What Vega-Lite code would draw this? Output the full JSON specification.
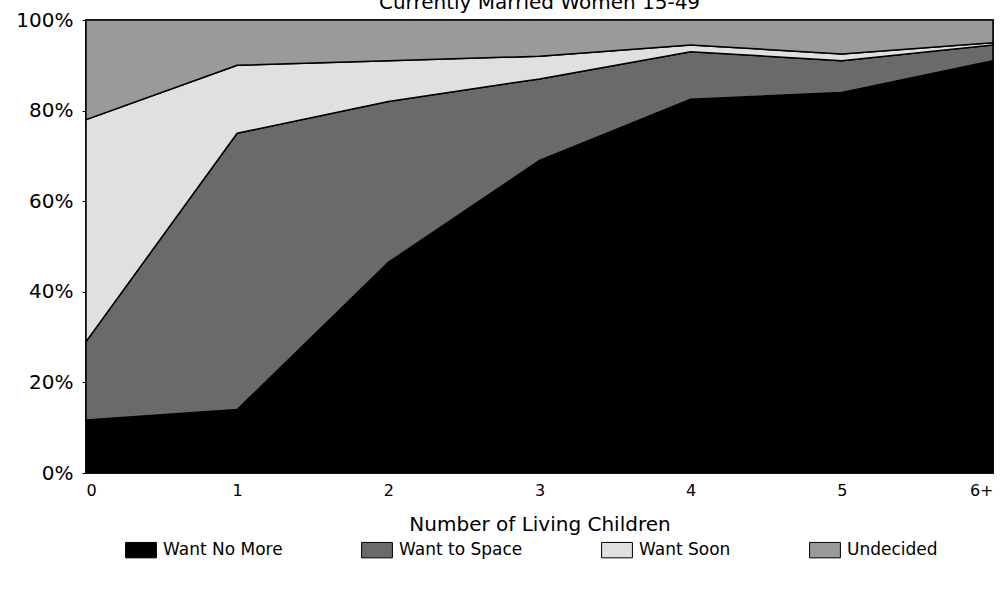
{
  "$schema": "https://vega.github.io/schema/vega-lite/v6.json",
  "width": 907,
  "height": 453,
  "autosize": {"type": "none"},
  "padding": {"left": 86, "top": 20, "right": 7, "bottom": 117},
  "background": "white",
  "title": {
    "text": "Currently Married Women 15-49",
    "fontSize": 20,
    "font": "DejaVu Sans",
    "fontWeight": "normal",
    "color": "black",
    "offset": -3,
    "anchor": "middle"
  },
  "config": {
    "view": {"stroke": "black", "strokeWidth": 1.5},
    "font": "DejaVu Sans"
  },
  "data": {
    "values": [
      {"children": "0", "status": "Want No More", "ord": 1, "pct": 0.117},
      {"children": "0", "status": "Want to Space", "ord": 2, "pct": 0.173},
      {"children": "0", "status": "Want Soon", "ord": 3, "pct": 0.49},
      {"children": "0", "status": "Undecided", "ord": 4, "pct": 0.22},
      {"children": "1", "status": "Want No More", "ord": 1, "pct": 0.14},
      {"children": "1", "status": "Want to Space", "ord": 2, "pct": 0.61},
      {"children": "1", "status": "Want Soon", "ord": 3, "pct": 0.15},
      {"children": "1", "status": "Undecided", "ord": 4, "pct": 0.10},
      {"children": "2", "status": "Want No More", "ord": 1, "pct": 0.465},
      {"children": "2", "status": "Want to Space", "ord": 2, "pct": 0.355},
      {"children": "2", "status": "Want Soon", "ord": 3, "pct": 0.09},
      {"children": "2", "status": "Undecided", "ord": 4, "pct": 0.09},
      {"children": "3", "status": "Want No More", "ord": 1, "pct": 0.69},
      {"children": "3", "status": "Want to Space", "ord": 2, "pct": 0.18},
      {"children": "3", "status": "Want Soon", "ord": 3, "pct": 0.05},
      {"children": "3", "status": "Undecided", "ord": 4, "pct": 0.08},
      {"children": "4", "status": "Want No More", "ord": 1, "pct": 0.825},
      {"children": "4", "status": "Want to Space", "ord": 2, "pct": 0.105},
      {"children": "4", "status": "Want Soon", "ord": 3, "pct": 0.015},
      {"children": "4", "status": "Undecided", "ord": 4, "pct": 0.055},
      {"children": "5", "status": "Want No More", "ord": 1, "pct": 0.84},
      {"children": "5", "status": "Want to Space", "ord": 2, "pct": 0.07},
      {"children": "5", "status": "Want Soon", "ord": 3, "pct": 0.015},
      {"children": "5", "status": "Undecided", "ord": 4, "pct": 0.075},
      {"children": "6+", "status": "Want No More", "ord": 1, "pct": 0.91},
      {"children": "6+", "status": "Want to Space", "ord": 2, "pct": 0.035},
      {"children": "6+", "status": "Want Soon", "ord": 3, "pct": 0.005},
      {"children": "6+", "status": "Undecided", "ord": 4, "pct": 0.05}
    ]
  },
  "mark": {"type": "area", "stroke": "black", "strokeWidth": 1.5, "fillOpacity": 1, "interpolate": "linear"},
  "encoding": {
    "x": {
      "field": "children",
      "type": "ordinal",
      "sort": ["0", "1", "2", "3", "4", "5", "6+"],
      "scale": {"type": "point", "padding": 0},
      "axis": {
        "title": "Number of Living Children",
        "titleFontSize": 20,
        "titleFontWeight": "normal",
        "titleColor": "black",
        "titlePadding": 16,
        "labelFontSize": 16,
        "labelColor": "black",
        "labelAngle": 0,
        "labelPadding": 9,
        "labelFlush": true,
        "ticks": false,
        "domain": false
      }
    },
    "y": {
      "field": "pct",
      "type": "quantitative",
      "stack": "zero",
      "scale": {"domain": [0, 1], "nice": false},
      "axis": {
        "title": null,
        "format": ".0%",
        "values": [0, 0.2, 0.4, 0.6, 0.8, 1],
        "labelFontSize": 20,
        "labelColor": "black",
        "grid": false,
        "tickColor": "black",
        "tickSize": 4,
        "domainColor": "black",
        "domainWidth": 1.5,
        "labelPadding": 9
      }
    },
    "color": {
      "field": "status",
      "type": "nominal",
      "sort": ["Want No More", "Want to Space", "Want Soon", "Undecided"],
      "scale": {
        "domain": ["Want No More", "Want to Space", "Want Soon", "Undecided"],
        "range": ["#000000", "#6a6a6a", "#e0e0e0", "#9a9a9a"]
      },
      "legend": {
        "title": null,
        "orient": "none",
        "legendX": 39,
        "legendY": 514,
        "direction": "horizontal",
        "columns": 4,
        "columnPadding": 76,
        "symbolType": "M-1,-0.5H1V0.5H-1Z",
        "symbolSize": 950,
        "symbolStrokeColor": "black",
        "symbolStrokeWidth": 1,
        "labelFontSize": 17,
        "labelColor": "black",
        "labelOffset": 6
      }
    },
    "order": {"field": "ord", "type": "quantitative"}
  }
}
